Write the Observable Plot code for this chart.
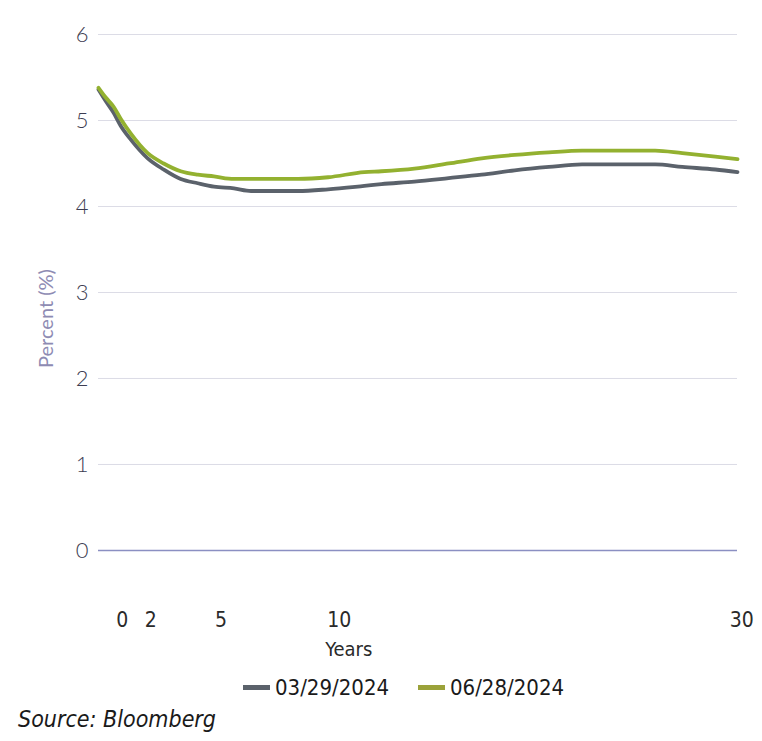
<!DOCTYPE html>
<html>
<head>
<meta charset="utf-8">
<script src="https://cdn.jsdelivr.net/npm/d3@7"></script>
<script src="https://cdn.jsdelivr.net/npm/@observablehq/plot@0.6"></script>
<style>
  html, body { margin: 0; padding: 0; background: #fff; }
  #wrap { position: relative; width: 762px; height: 741px; }
  .narrow { font-family: "Liberation Sans Narrow", "DejaVu Sans Condensed", "Roboto Condensed", sans-serif; }
  .leg-item { position: absolute; top: 675px; display: flex; align-items: center; font-size: 22px; color: #1a1a1a; }
  .sw { width: 27px; height: 5px; margin-right: 5px; }
  #source { position: absolute; left: 18px; top: 706px; font-size: 23px; font-style: italic; color: #1a1a1a; }
</style>
</head>
<body>
<div id="wrap">
  <div id="chart"></div>
</div>
<script>
// Maturity (years, position on the curve) and yields (%)
const years = [0, 0.33, 0.71, 1.04, 1.51, 2.31, 3.06, 3.86, 4.66, 5.42, 6.36, 7.16, 8.3, 9.37, 10.78, 12.48, 13.28, 14.83, 16.44, 17.99, 19.54, 21.15, 22.70, 24.58, 26.14, 27.41, 28.96, 30.0];
const march2024 = [5.36, 5.23, 5.09, 4.94, 4.78, 4.56, 4.43, 4.32, 4.27, 4.23, 4.21, 4.18, 4.18, 4.18, 4.20, 4.24, 4.26, 4.29, 4.33, 4.37, 4.42, 4.46, 4.49, 4.49, 4.49, 4.46, 4.43, 4.40];
const june2024 = [5.38, 5.27, 5.16, 5.02, 4.85, 4.62, 4.50, 4.41, 4.37, 4.35, 4.32, 4.32, 4.32, 4.32, 4.34, 4.40, 4.41, 4.44, 4.50, 4.56, 4.60, 4.63, 4.65, 4.65, 4.65, 4.62, 4.58, 4.55];
const seriesNames = ["03/29/2024", "06/28/2024"];
const seriesColors = ["#5b626b", "#93b130"];
const legendColors = ["#5b626b", "#9ba23a"];
const yTicks = [0, 1, 2, 3, 4, 5, 6];
const xTickLabels = ["0", "2", "5", "10", "30"];
const xTickPos = [1.12, 2.45, 5.75, 11.3, 30.2];
const yearsLabelPos = 11.75;

const data = [];
years.forEach((yr, i) => {
  data.push({year: yr, value: march2024[i], series: seriesNames[0]});
  data.push({year: yr, value: june2024[i], series: seriesNames[1]});
});

const chart = Plot.plot({
  width: 762,
  height: 668,
  marginLeft: 98,
  marginRight: 25,
  marginTop: 34,
  marginBottom: 66,
  style: {fontFamily: "Lato, 'Open Sans', sans-serif", background: "#fff"},
  x: {domain: [0, 30]},
  y: {domain: [-0.605, 6]},
  color: {domain: seriesNames, range: seriesColors},
  marks: [
    Plot.gridY(yTicks.filter(d => d !== 0), {stroke: "#dcdce6", strokeOpacity: 1, strokeWidth: 1}),
    Plot.ruleY([0], {stroke: "#8b8fc2", strokeWidth: 1.6}),
    Plot.axisY(yTicks, {tickSize: 0, tickPadding: 10, fontSize: 22, fill: "#3d3d52", fontWeight: 300,
      tickFormat: d => String(d),
      label: "Percent (%)", labelAnchor: "center", labelArrow: "none", labelOffset: 60}),
    Plot.axisX(xTickPos, {tickSize: 0, tickPadding: 10, fontSize: 21, fill: "#2a2a2a", label: null,
      tickFormat: d => xTickLabels[xTickPos.indexOf(d)]}),
    Plot.text([yearsLabelPos], {x: d => d, frameAnchor: "bottom", dy: 53, text: () => "Years", fontSize: 20, fill: "#2a2a2a"}),
    Plot.line(data, {x: "year", y: "value", stroke: "series", strokeWidth: 3.8, curve: "monotone-x"})
  ]
});
document.getElementById("chart").appendChild(chart);

// style labels
d3.select(chart).selectAll('g[aria-label="y-axis label"] text').attr("fill", "#8e8bb3").attr("font-size", 20).attr("font-weight", 400);
d3.select(chart).selectAll('g[aria-label="x-axis tick label"] text').attr("font-family", '"Liberation Sans Narrow", "DejaVu Sans Condensed", sans-serif');
d3.select(chart).selectAll('g[aria-label="text"] text').attr("font-family", '"Liberation Sans Narrow", "DejaVu Sans Condensed", sans-serif');

// legend
const wrap = document.getElementById("wrap");
const legendLeft = [243, 418];
seriesNames.forEach((name, i) => {
  const item = document.createElement("div");
  item.className = "leg-item narrow";
  item.style.left = legendLeft[i] + "px";
  const sw = document.createElement("span");
  sw.className = "sw";
  sw.style.background = legendColors[i];
  const t = document.createElement("span");
  t.textContent = name;
  item.appendChild(sw);
  item.appendChild(t);
  wrap.appendChild(item);
});
const src = document.createElement("div");
src.id = "source";
src.className = "narrow";
src.textContent = "Source: Bloomberg";
wrap.appendChild(src);
</script>
</body>
</html>
